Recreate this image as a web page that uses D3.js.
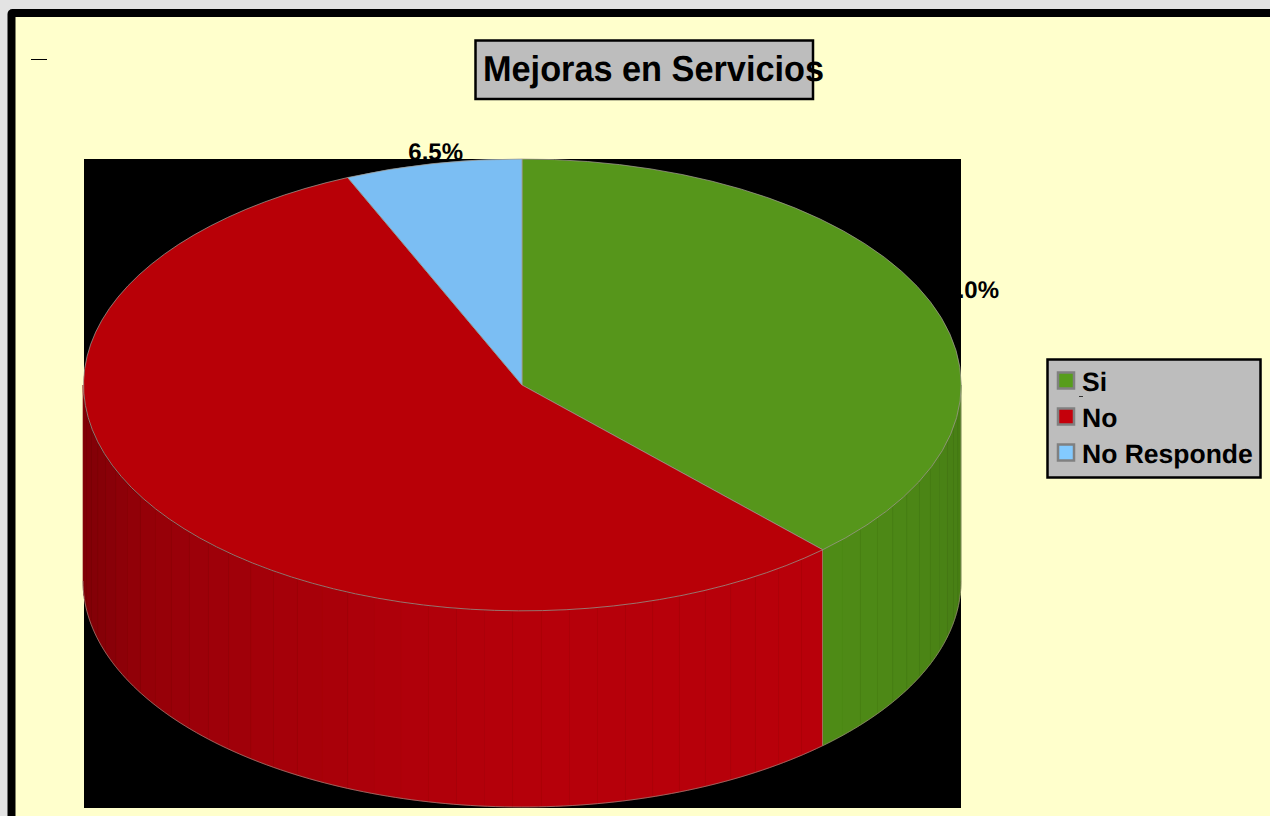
<!DOCTYPE html>
<html><head><meta charset="utf-8">
<script src="https://cdn.jsdelivr.net/npm/d3@7"></script>
<style>html,body{margin:0;padding:0;background:#e3e3e3;overflow:hidden}svg{display:block}text{text-rendering:geometricPrecision}</style>
</head><body><svg id="c" width="1270" height="816"></svg>
<script>
const chartTitle = "Mejoras en Servicios";
const categories = ["Si", "No", "No Responde"];
const values = [38.0, 55.5, 6.5];
const labels = ["38.0%", "55.5%", "6.5%"];
const topColors = ["#56961b", "#b80007", "#7bbef3"];
const wallColors = ["#549518", "#c5000b", "#83caff"];
const legendColors = ["#579d1c", "#c5000b", "#83caff"];

const svg = d3.select("#c");
const W = 1270, H = 816;
const cx = 522, cy = 385, rx = 439, ry = 226, depth = 196;
const sans = "'Liberation Sans',Arial,sans-serif";

// frame
svg.append("rect").attr("x",7.5).attr("y",9).attr("width",W+40).attr("height",H+40).attr("rx",5)
  .attr("fill","#000");
svg.append("rect").attr("x",15.5).attr("y",17).attr("width",W+40).attr("height",H+40).attr("fill","#ffffcc");
svg.append("line").attr("x1",31).attr("x2",47).attr("y1",59.5).attr("y2",59.5).attr("stroke","#000").attr("stroke-width",1);

// title
svg.append("rect").attr("x",475.5).attr("y",40.5).attr("width",337.5).attr("height",58.5)
  .attr("fill","#bdbdbd").attr("stroke","#000").attr("stroke-width",2.5);
svg.append("text").attr("x",483).attr("y",81).text(chartTitle)
  .attr("textLength",341).attr("lengthAdjust","spacingAndGlyphs")
  .attr("font-family",sans).attr("font-weight","bold").attr("font-size",36).attr("fill","#000");

const pie = d3.pie().sort(null).value(d=>d);
const arcs = pie(values);

// data labels sit under the plot backdrop, as in the reference
const labelFont = g => g.attr("font-family",sans).attr("font-weight","bold").attr("font-size",24).attr("fill","#000");
const labelAnchors = [[999,298,"end"],[null,null,"end"],[463,160,"end"]];
labels.forEach((t,i)=>{
  if(labelAnchors[i][0]===null) return;
  svg.append("text").attr("x",labelAnchors[i][0]).attr("y",labelAnchors[i][1]).attr("text-anchor",labelAnchors[i][2]).text(t).call(labelFont);
});

// plot backdrop
svg.append("rect").attr("x",84).attr("y",159).attr("width",877).attr("height",649).attr("fill","#000");

// side wall: bands shaded by horizontal position
const shade = d3.scaleLinear().domain([-1,-0.85,-0.62,-0.28,0,0.68,0.9,1]).range([0.65,0.76,0.82,0.89,0.92,0.935,0.9,0.85]);
const px = a => cx + rx*Math.sin(a);
const py = a => cy - ry*Math.cos(a);
const wall = svg.append("g");
const bandStep = Math.PI/48;
arcs.forEach((d,i)=>{
  const a0 = Math.max(d.startAngle, Math.PI/2), a1 = Math.min(d.endAngle, 3*Math.PI/2);
  if(a1<=a0) return;
  const n = Math.max(1,Math.ceil((a1-a0)/bandStep));
  const base = d3.color(wallColors[i]);
  d3.range(n).forEach(k=>{
    const s = a0+(a1-a0)*k/n, e = a0+(a1-a0)*(k+1)/n;
    const ang = d3.range(9).map(j=>s+(e-s)*j/8);
    const pts = ang.map(a=>[px(a),py(a)]).concat(ang.slice().reverse().map(a=>[px(a),py(a)+depth]));
    const f = shade(Math.sin((s+e)/2));
    const c = d3.rgb(base.r*f, base.g*f, base.b*f);
    wall.append("path").attr("d",d3.line()(pts)+"Z").attr("fill",c.formatHex()).attr("stroke",c.formatHex()).attr("stroke-width",0.6);
  });
  // wall outline
  const fine = d3.range(121).map(j=>a0+(a1-a0)*j/120);
  wall.append("path").attr("d",d3.line()(fine.map(a=>[px(a),py(a)+depth])))
    .attr("fill","none").attr("stroke","#a08a80").attr("stroke-opacity",0.7).attr("stroke-width",1);
  wall.append("path").attr("d",d3.line()([[px(a0),py(a0)],[px(a0),py(a0)+depth]]))
    .attr("fill","none").attr("stroke","#a09a80").attr("stroke-opacity",0.7).attr("stroke-width",1);
});

// top faces
const arcGen = d3.arc().innerRadius(0).outerRadius(1);
const topFace = svg.append("g").attr("transform",`translate(${cx},${cy}) scale(${rx},${ry})`);
topFace.selectAll("path").data(arcs).join("path")
  .attr("d",arcGen).attr("fill",(d,i)=>topColors[i])
  .attr("stroke","#a09a90").attr("stroke-opacity",0.75).attr("stroke-width",1).attr("vector-effect","non-scaling-stroke");

// legend
svg.append("rect").attr("x",1047.5).attr("y",359.5).attr("width",213).attr("height",118)
  .attr("fill","#bdbdbd").attr("stroke","#000").attr("stroke-width",2.5);
const rowY = d3.scalePoint().domain(categories).range([381,453]);
const lg = svg.append("g").selectAll("g").data(categories).join("g");
lg.append("rect").attr("x",1058).attr("y",d=>rowY(d)-8.5).attr("width",16).attr("height",16)
  .attr("fill",(d,i)=>legendColors[i]).attr("stroke","#808080").attr("stroke-width",2.5);
lg.append("text").attr("x",1082).attr("y",d=>rowY(d)+9.5).text(d=>d)
  .attr("font-family",sans).attr("font-weight","bold").attr("font-size",26.5).attr("fill","#000");
svg.append("line").attr("x1",1079).attr("x2",1083).attr("y1",396.5).attr("y2",396.5).attr("stroke","#333").attr("stroke-width",1);
</script></body></html>
